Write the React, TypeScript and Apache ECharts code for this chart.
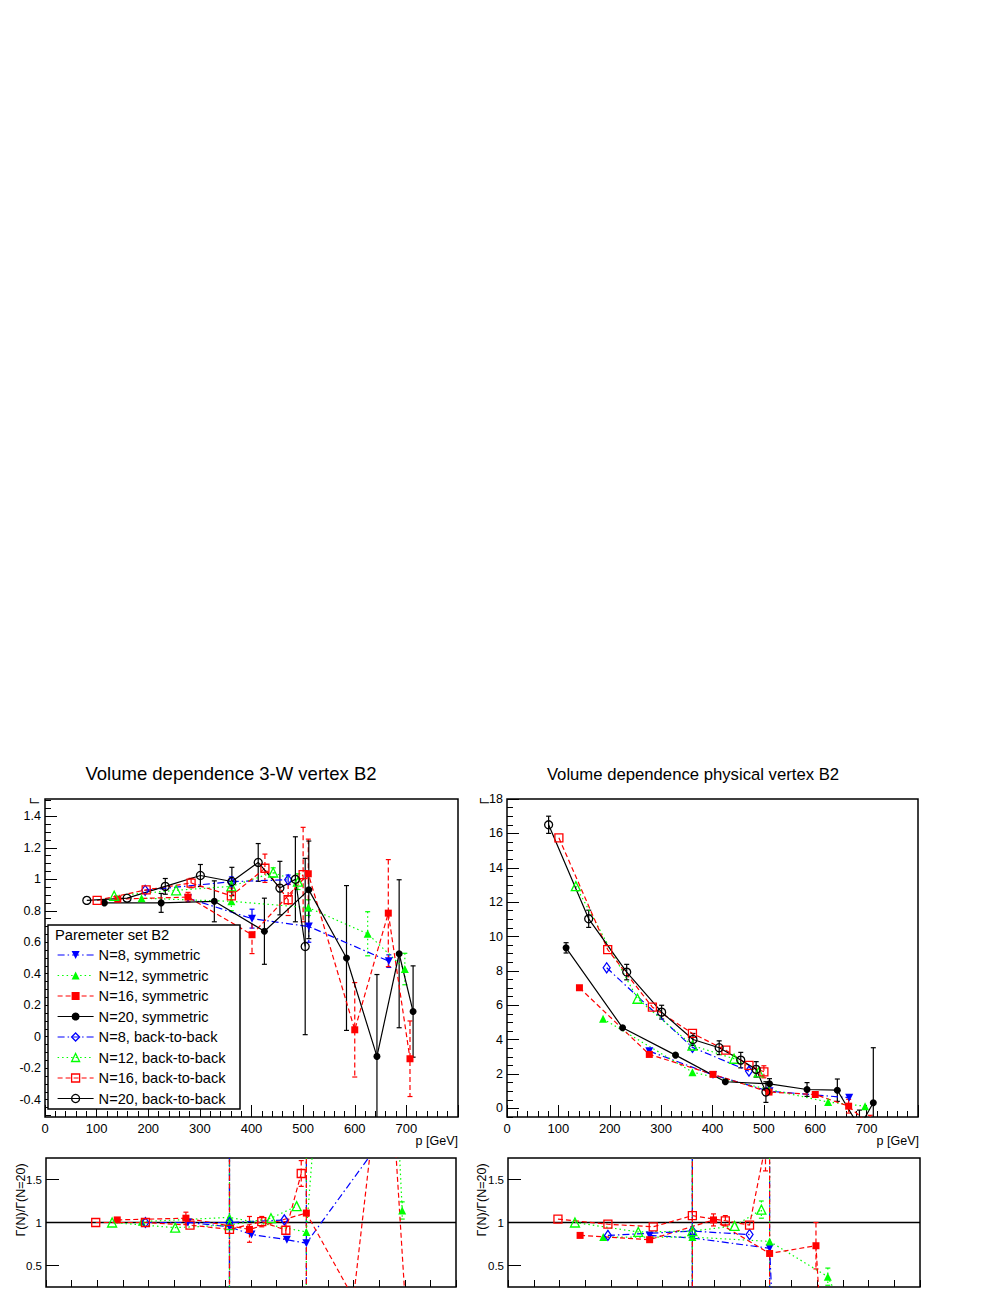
import React, { useEffect, useRef } from "react";
import * as echarts from "echarts";

const FONT = '"Liberation Sans", Arial, Helvetica, sans-serif';

// ---------- series names ----------
const NAMES = [
  "N=8, symmetric",
  "N=12, symmetric",
  "N=16, symmetric",
  "N=20, symmetric",
  "N=8, back-to-back",
  "N=12, back-to-back",
  "N=16, back-to-back",
  "N=20, back-to-back",
];

// ---------- momenta p [GeV] of the main panels ----------
const P_N8S = [277, 401, 511, 666];
const P_N8B = [194, 361, 471];
const P_N12S = [187, 361, 510, 625, 697];
const P_N12B = [134, 254, 361, 442, 490];
const P_N16S = [141, 277, 401, 510, 600, 665, 707];
const P_N16B = [101, 196, 283, 361, 426, 471, 500];
const P_N20S = [115, 225, 328, 425, 511, 584, 643, 686, 713];
const P_N20B = [81, 159, 233, 301, 362, 413, 455, 485, 504];

// ---------- 3-W vertex (left main) ----------
const W_N8S = [0.88, 0.75, 0.7, 0.48];
const WE_N8S = [0.02, 0.06, 0.1, 0.04];
const W_N8B = [0.93, 0.985, 0.997];
const WE_N8B = [0.01, 0.03, 0.03];
const W_N12S = [0.88, 0.86, 0.82, 0.654, 0.43];
const WE_N12S = [0.01, 0.06, 0.05, 0.14, 0.1];
const W_N12B = [0.895, 0.93, 0.955, 1.043, 0.985];
const WE_N12B = [0.01, 0.01, 0.03, 0.03, 0.05];
const W_N16S = [0.874, 0.887, 0.648, 1.035, 0.044, 0.785, -0.14];
const WE_N16S = [0.01, 0.03, 0.12, 0.22, 0.3, 0.34, 0.24];
const W_N16B = [0.866, 0.933, 0.976, 0.895, 1.07, 0.87, 1.03];
const WE_N16B = [0.01, 0.02, 0.03, 0.05, 0.09, 0.1, 0.3];
const W_N20S = [0.85, 0.85, 0.86, 0.67, 0.933, 0.5, -0.125, 0.527, 0.16];
const WE_N20S = [0.01, 0.06, 0.13, 0.21, 0.31, 0.46, 0.52, 0.47, 0.29];
const W_N20B = [0.866, 0.88, 0.955, 1.024, 0.986, 1.107, 0.944, 1.0, 0.573];
const WE_N20B = [0.01, 0.02, 0.05, 0.07, 0.09, 0.12, 0.17, 0.27, 0.56];

// ---------- physical vertex (right main) ----------
const H_N8S = [3.33, 1.95, 1.0, 0.62];
const HE_N8S = [0.1, 0.1, 0.1, 0.1];
const H_N8B = [8.18, 3.55, 2.17];
const HE_N8B = [0.15, 0.15, 0.15];
const H_N12S = [5.21, 2.11, 1.1, 0.37, 0.13];
const HE_N12S = [0.1, 0.1, 0.15, 0.1, 0.2];
const H_N12B = [12.93, 6.38, 3.66, 2.89, 2.1];
const HE_N12B = [0.2, 0.15, 0.2, 0.15, 0.2];
const H_N16S = [7.02, 3.14, 1.98, 0.95, 0.81, 0.13, -1.0];
const HE_N16S = [0.1, 0.1, 0.1, 0.15, 0.2, 0.4, 0.6];
const H_N16B = [15.74, 9.24, 5.89, 4.36, 3.39, 2.5, 2.13];
const HE_N16B = [0.2, 0.2, 0.2, 0.2, 0.2, 0.25, 0.35];
const H_N20S = [9.34, 4.69, 3.1, 1.55, 1.43, 1.1, 1.06, -1.1, 0.33];
const HE_N20S = [0.3, 0.25, 0.25, 0.25, 0.3, 0.4, 0.65, 1.0, 3.2];
const H_N20B = [16.5, 11.03, 7.93, 5.6, 4.01, 3.53, 2.81, 2.27, 0.95];
const HE_N20B = [0.5, 0.5, 0.45, 0.4, 0.35, 0.4, 0.45, 0.45, 0.6];

// ---------- ratio Γ(N)/Γ(N=20), 3-W vertex (left bottom) ----------
const RWP_N8S = [277, 358, 401, 470, 508, 666];
const RW_N8S = [1.0, 0.95, 0.86, 0.8, 0.76, 2.05];
const RWE_N8S = [0.02, 5, 0.05, 0.05, 5, 0];
const RWP_N8B = [194, 358, 465];
const RW_N8B = [1.0, 1.0, 1.03];
const RWE_N8B = [0.01, 5, 0.03];
const RWP_N12S = [187, 358, 508, 625, 695];
const RW_N12S = [1.01, 1.06, 0.89, 9.9, 1.14];
const RWE_N12S = [0.01, 5, 5, 2, 0.1];
const RWP_N12B = [129, 252, 358, 439, 489];
const RW_N12B = [1.0, 0.94, 0.97, 1.05, 1.19];
const RWE_N12B = [0.01, 0.02, 5, 0.03, 0.05];
const RWP_N16S = [139, 273, 397, 508, 600, 665, 707];
const RW_N16S = [1.03, 1.05, 0.92, 1.11, 0.12, 3.5, -0.5];
const RWE_N16S = [0.01, 0.07, 0.15, 5, 0, 0, 0];
const RWP_N16B = [97, 194, 281, 358, 421, 468, 498];
const RW_N16B = [1.0, 1.0, 0.97, 0.92, 1.01, 0.91, 1.57];
const RWE_N16B = [0.01, 0.01, 0.03, 5, 0.06, 0.1, 0.15];

// ---------- ratio Γ(N)/Γ(N=20), physical vertex (right bottom) ----------
const RHP_N8S = [275, 358, 508, 665];
const RH_N8S = [0.85, 0.82, 0.7, -20];
const RHE_N8S = [0.02, 5, 5, 0];
const RHP_N8B = [194, 358, 469];
const RH_N8B = [0.85, 0.9, 0.86];
const RHE_N8B = [0.02, 5, 0.02];
const RHP_N12S = [185, 358, 508, 621, 697];
const RH_N12S = [0.83, 0.83, 0.78, 0.37, -0.6];
const RHE_N12S = [0.02, 5, 5, 0.1, 0];
const RHP_N12B = [130, 253, 358, 440, 492];
const RH_N12B = [1.0, 0.89, 0.9, 0.96, 1.15];
const RHE_N12B = [0.01, 0.02, 5, 0.03, 0.1];
const RHP_N16S = [140, 275, 399, 508, 598, 665];
const RH_N16S = [0.85, 0.8, 1.03, 0.64, 0.73, -6];
const RHE_N16S = [0.01, 0.02, 0.07, 5, 0.27, 0];
const RHP_N16B = [97, 194, 282, 358, 422, 469, 500];
const RH_N16B = [1.04, 0.98, 0.95, 1.08, 1.02, 0.97, 1.9];
const RHE_N16B = [0.01, 0.02, 0.02, 5, 0.06, 0.03, 0.3];

// ---------- axis tick labels ----------
const Y3W_LABELS = [-0.4, -0.2, 0, 0.2, 0.4, 0.6, 0.8, 1, 1.2, 1.4];
const YPH_LABELS = [0, 2, 4, 6, 8, 10, 12, 14, 16, 18];
const YR_LABELS = [0.5, 1, 1.5];
const RATIO_ONE = [[0, 1], [800, 1]];

// ---------- styles ----------
const STY: Record<string, { color: string; dash: any }> = {
  N8: { color: "#0000ff", dash: [7, 3, 1.5, 3] },
  N12: { color: "#00ff00", dash: [1.5, 3] },
  N16: { color: "#ff0000", dash: [5, 3] },
  N20: { color: "#000000", dash: "solid" },
};
type Mk = { symbol: string; size: any; rotate?: number; open: boolean };
const MK: Record<string, Mk> = {
  N8S: { symbol: "triangle", size: 8, rotate: 180, open: false },
  N8B: { symbol: "diamond", size: [7, 10], open: true },
  N12S: { symbol: "triangle", size: 8, open: false },
  N12B: { symbol: "triangle", size: 9, open: true },
  N16S: { symbol: "rect", size: 7, open: false },
  N16B: { symbol: "rect", size: 8, open: true },
  N20S: { symbol: "circle", size: 7, open: false },
  N20B: { symbol: "circle", size: 8, open: true },
};

function ticks(a: number, b: number, step: number) {
  const out: number[] = [];
  for (let i = 0; a + i * step <= b + 1e-9; i++) out.push(+(a + i * step).toFixed(4));
  return out;
}

function fmt(v: number) {
  return String(Math.round(v * 100) / 100);
}

function lineSeries(name: string, p: number[], v: number[], xi: number, yi: number, key: string, mk: Mk) {
  const sty = STY[key];
  return {
    type: "line",
    name,
    xAxisIndex: xi,
    yAxisIndex: yi,
    data: p.map((x, i) => [x, v[i]]),
    symbol: mk.symbol,
    symbolSize: mk.size,
    symbolRotate: mk.rotate || 0,
    showAllSymbol: true,
    clip: true,
    silent: true,
    z: 3,
    lineStyle: { color: sty.color, width: 1.2, type: sty.dash },
    itemStyle: mk.open
      ? { color: "rgba(255,255,255,0)", borderColor: sty.color, borderWidth: 1.3 }
      : { color: sty.color, borderColor: sty.color, borderWidth: 0 },
    emphasis: { disabled: true },
  };
}

function errSeries(name: string, p: number[], v: number[], e: number[], xi: number, yi: number, key: string) {
  const sty = STY[key];
  const dash = sty.dash === "solid" ? null : sty.dash;
  return {
    type: "custom",
    name: name + " (err)",
    xAxisIndex: xi,
    yAxisIndex: yi,
    clip: true,
    silent: true,
    z: 2,
    data: p.map((x, i) => [x, v[i] - e[i], v[i] + e[i]]),
    encode: { x: 0, y: [1, 2] },
    renderItem: (params: any, api: any) => {
      const x = api.value(0);
      const lo = api.value(1);
      const hi = api.value(2);
      const a = api.coord([x, hi]);
      const b = api.coord([x, lo]);
      if (Math.abs(b[1] - a[1]) < 9) return null;
      const cap = 2.5;
      return {
        type: "group",
        children: [
          { type: "line", shape: { x1: a[0], y1: a[1], x2: b[0], y2: b[1] }, style: { stroke: sty.color, lineWidth: 1.2, lineDash: dash } },
          { type: "line", shape: { x1: a[0] - cap, y1: a[1], x2: a[0] + cap, y2: a[1] }, style: { stroke: sty.color, lineWidth: 1.2 } },
          { type: "line", shape: { x1: b[0] - cap, y1: b[1], x2: b[0] + cap, y2: b[1] }, style: { stroke: sty.color, lineWidth: 1.2 } },
        ],
      };
    },
  };
}

const tickLine = { color: "#000", width: 1 };

function mainX(grid: number) {
  return {
    type: "value",
    gridIndex: grid,
    position: "bottom",
    min: 0,
    max: 800,
    interval: 100,
    axisLine: { show: false, onZero: false },
    axisTick: { show: true, inside: true, length: 12, lineStyle: tickLine },
    minorTick: { show: true, splitNumber: 5, length: 6, lineStyle: tickLine },
    axisLabel: {
      show: true,
      fontSize: 13,
      color: "#000",
      fontFamily: FONT,
      margin: 5,
      formatter: (v: number) => (v >= 800 ? "" : String(v)),
    },
    splitLine: { show: false },
    minorSplitLine: { show: false },
  };
}

function ratioX(grid: number) {
  return {
    type: "value",
    gridIndex: grid,
    position: "bottom",
    min: 0,
    max: 800,
    interval: 50,
    axisLine: { show: false, onZero: false },
    axisTick: { show: true, inside: true, length: 7, lineStyle: tickLine },
    axisLabel: { show: false },
    splitLine: { show: false },
  };
}

function yMain(grid: number, min: number, max: number, labels: number[], fontSize: number, len: number) {
  return {
    type: "value",
    gridIndex: grid,
    position: "left",
    min,
    max,
    axisLine: { show: false, onZero: false },
    axisTick: { show: true, inside: true, length: len, customValues: labels, lineStyle: tickLine },
    axisLabel: {
      show: true,
      customValues: labels,
      formatter: fmt,
      fontSize,
      color: "#000",
      fontFamily: FONT,
      margin: 4,
    },
    splitLine: { show: false },
  };
}

function yMinor(grid: number, min: number, max: number, vals: number[]) {
  return {
    type: "value",
    gridIndex: grid,
    position: "left",
    min,
    max,
    axisLine: { show: false, onZero: false },
    axisTick: { show: true, inside: true, length: 6, customValues: vals, lineStyle: tickLine },
    axisLabel: { show: false },
    splitLine: { show: false },
  };
}

function panelSeries(
  xi: number,
  yi: number,
  sets: [string, string, string, number[], number[], number[]][]
) {
  const out: any[] = [];
  sets.forEach(([name, key, mkKey, p, v, e]) => {
    out.push(errSeries(name, p, v, e, xi, yi, key));
  });
  sets.forEach(([name, key, mkKey, p, v]) => {
    out.push(lineSeries(name, p, v, xi, yi, key, MK[mkKey]));
  });
  return out;
}

function buildOption() {
  const series: any[] = [];

  // ratio reference lines at 1
  series.push({
    type: "line", name: "ratio one L", xAxisIndex: 2, yAxisIndex: 4, data: RATIO_ONE,
    symbol: "none", lineStyle: { color: "#000", width: 1.5 }, silent: true, z: 1,
  });
  series.push({
    type: "line", name: "ratio one R", xAxisIndex: 3, yAxisIndex: 5, data: RATIO_ONE,
    symbol: "none", lineStyle: { color: "#000", width: 1.5 }, silent: true, z: 1,
  });

  series.push(
    ...panelSeries(0, 0, [
      [NAMES[0], "N8", "N8S", P_N8S, W_N8S, WE_N8S],
      [NAMES[1], "N12", "N12S", P_N12S, W_N12S, WE_N12S],
      [NAMES[2], "N16", "N16S", P_N16S, W_N16S, WE_N16S],
      [NAMES[3], "N20", "N20S", P_N20S, W_N20S, WE_N20S],
      [NAMES[4], "N8", "N8B", P_N8B, W_N8B, WE_N8B],
      [NAMES[5], "N12", "N12B", P_N12B, W_N12B, WE_N12B],
      [NAMES[6], "N16", "N16B", P_N16B, W_N16B, WE_N16B],
      [NAMES[7], "N20", "N20B", P_N20B, W_N20B, WE_N20B],
    ])
  );
  series.push(
    ...panelSeries(1, 2, [
      [NAMES[0], "N8", "N8S", P_N8S, H_N8S, HE_N8S],
      [NAMES[1], "N12", "N12S", P_N12S, H_N12S, HE_N12S],
      [NAMES[2], "N16", "N16S", P_N16S, H_N16S, HE_N16S],
      [NAMES[3], "N20", "N20S", P_N20S, H_N20S, HE_N20S],
      [NAMES[4], "N8", "N8B", P_N8B, H_N8B, HE_N8B],
      [NAMES[5], "N12", "N12B", P_N12B, H_N12B, HE_N12B],
      [NAMES[6], "N16", "N16B", P_N16B, H_N16B, HE_N16B],
      [NAMES[7], "N20", "N20B", P_N20B, H_N20B, HE_N20B],
    ])
  );
  series.push(
    ...panelSeries(2, 4, [
      [NAMES[0], "N8", "N8S", RWP_N8S, RW_N8S, RWE_N8S],
      [NAMES[1], "N12", "N12S", RWP_N12S, RW_N12S, RWE_N12S],
      [NAMES[2], "N16", "N16S", RWP_N16S, RW_N16S, RWE_N16S],
      [NAMES[4], "N8", "N8B", RWP_N8B, RW_N8B, RWE_N8B],
      [NAMES[5], "N12", "N12B", RWP_N12B, RW_N12B, RWE_N12B],
      [NAMES[6], "N16", "N16B", RWP_N16B, RW_N16B, RWE_N16B],
    ])
  );
  series.push(
    ...panelSeries(3, 5, [
      [NAMES[0], "N8", "N8S", RHP_N8S, RH_N8S, RHE_N8S],
      [NAMES[1], "N12", "N12S", RHP_N12S, RH_N12S, RHE_N12S],
      [NAMES[2], "N16", "N16S", RHP_N16S, RH_N16S, RHE_N16S],
      [NAMES[4], "N8", "N8B", RHP_N8B, RH_N8B, RHE_N8B],
      [NAMES[5], "N12", "N12B", RHP_N12B, RH_N12B, RHE_N12B],
      [NAMES[6], "N16", "N16B", RHP_N16B, RH_N16B, RHE_N16B],
    ])
  );

  const legendKeys: [string, string][] = [
    ["N8", "N8S"], ["N12", "N12S"], ["N16", "N16S"], ["N20", "N20S"],
    ["N8", "N8B"], ["N12", "N12B"], ["N16", "N16B"], ["N20", "N20B"],
  ];

  const gridBase = { show: true, borderColor: "#000", borderWidth: 1.5, backgroundColor: "#fff", containLabel: false, outerBoundsMode: "none" };

  return {
    animation: false,
    backgroundColor: "#fff",
    textStyle: { fontFamily: FONT },
    grid: [
      { ...gridBase, left: 45, top: 799, width: 413, height: 318 },
      { ...gridBase, left: 507, top: 799, width: 411, height: 318 },
      { ...gridBase, left: 46, top: 1158, width: 410, height: 129 },
      { ...gridBase, left: 508, top: 1158, width: 412, height: 129 },
    ],
    xAxis: [mainX(0), mainX(1), ratioX(2), ratioX(3)],
    yAxis: [
      yMain(0, -0.51, 1.51, Y3W_LABELS, 12.5, 12),
      yMinor(0, -0.51, 1.51, ticks(-0.5, 1.5, 0.05)),
      yMain(1, -0.5, 18, YPH_LABELS, 12.5, 12),
      yMinor(1, -0.5, 18, ticks(-0.5, 18, 0.5)),
      yMain(2, 0.25, 1.75, YR_LABELS, 11.5, 13),
      yMain(3, 0.25, 1.75, YR_LABELS, 11.5, 13),
    ],
    legend: {
      show: true,
      orient: "vertical",
      left: 57,
      top: 947.5,
      padding: 0,
      itemGap: 5.5,
      itemWidth: 36,
      itemHeight: 10,
      selectedMode: false,
      z: 12,
      symbolRotate: "inherit",
      textStyle: { fontSize: 14.6, color: "#000", fontFamily: FONT, lineHeight: 14 },
      data: NAMES.map((n, i) => {
        const [k, m] = legendKeys[i];
        const c = STY[k].color;
        const mk = MK[m];
        return {
          name: n,
          itemStyle: mk.open
            ? { color: "rgba(255,255,255,0)", borderColor: c, borderWidth: 1.3 }
            : { color: c, borderColor: c, borderWidth: 0 },
          lineStyle: { color: c, width: 1.2, type: STY[k].dash },
        };
      }),
    },
    graphic: [
      { type: "text", x: 231, y: 773, z: 20, style: { text: "Volume dependence 3-W vertex B2", fontSize: 18.5, fontFamily: FONT, fill: "#000", align: "center", verticalAlign: "middle" } },
      { type: "text", x: 693, y: 774, z: 20, style: { text: "Volume dependence physical vertex B2", fontSize: 16.7, fontFamily: FONT, fill: "#000", align: "center", verticalAlign: "middle" } },
      { type: "text", x: 35, y: 801, rotation: Math.PI / 2, z: 20, style: { text: "Γ", fontSize: 12, fontFamily: FONT, fill: "#000", align: "center", verticalAlign: "middle" } },
      { type: "text", x: 485, y: 801, rotation: Math.PI / 2, z: 20, style: { text: "Γ", fontSize: 12, fontFamily: FONT, fill: "#000", align: "center", verticalAlign: "middle" } },
      { type: "text", x: 458, y: 1141, z: 20, style: { text: "p [GeV]", fontSize: 12.5, fontFamily: FONT, fill: "#000", align: "right", verticalAlign: "middle" } },
      { type: "text", x: 919, y: 1141, z: 20, style: { text: "p [GeV]", fontSize: 12.5, fontFamily: FONT, fill: "#000", align: "right", verticalAlign: "middle" } },
      { type: "text", x: 21, y: 1200, rotation: Math.PI / 2, z: 20, style: { text: "Γ(N)/Γ(N=20)", fontSize: 12.5, fontFamily: FONT, fill: "#000", align: "center", verticalAlign: "middle" } },
      { type: "text", x: 482, y: 1200, rotation: Math.PI / 2, z: 20, style: { text: "Γ(N)/Γ(N=20)", fontSize: 12.5, fontFamily: FONT, fill: "#000", align: "center", verticalAlign: "middle" } },
      { type: "rect", z: 10, shape: { x: 48, y: 925, width: 192, height: 184 }, style: { fill: "#fff", stroke: "#000", lineWidth: 1.5 } },
      { type: "text", x: 55, y: 935, z: 11, style: { text: "Paremeter set B2", fontSize: 14.7, fontFamily: FONT, fill: "#000", align: "left", verticalAlign: "middle" } },
    ],
    series,
  };
}

export default function App() {
  const ref = useRef<HTMLDivElement>(null);
  useEffect(() => {
    if (!ref.current) return;
    const chart = echarts.init(ref.current, undefined, { renderer: "svg" });
    chart.setOption(buildOption() as any);
    return () => chart.dispose();
  }, []);
  return (
    <div
      ref={ref}
      style={{ position: "absolute", left: 0, top: 0, width: 997, height: 1290, background: "#fff" }}
    />
  );
}
